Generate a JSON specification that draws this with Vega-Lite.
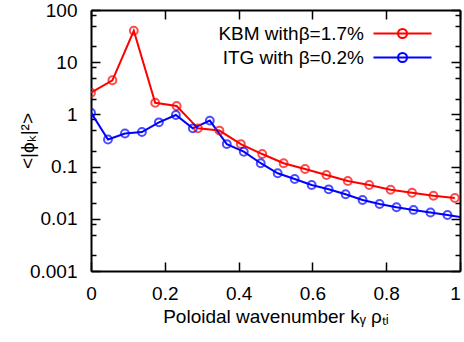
{
  "$schema": "https://vega.github.io/schema/vega-lite/v6.json",
  "width": 369,
  "height": 261,
  "autosize": "none",
  "padding": {"left": 91, "top": 10, "right": 4, "bottom": 71},
  "background": "white",
  "config": {
    "view": {"stroke": null},
    "font": "Liberation Sans",
    "axis": {
      "grid": false,
      "domainColor": "black",
      "domainWidth": 2,
      "tickColor": "black",
      "tickWidth": 1.5,
      "labelFont": "Liberation Sans",
      "labelFontSize": 19,
      "labelColor": "black",
      "titleFont": "Liberation Sans",
      "titleFontSize": 19,
      "titleFontWeight": "normal",
      "titleColor": "black"
    }
  },
  "datasets": {
    "spec": [
      {"series": "KBM withβ=1.7%", "ky": 0.0, "phi2": 2.6},
      {"series": "KBM withβ=1.7%", "ky": 0.058, "phi2": 4.5},
      {"series": "KBM withβ=1.7%", "ky": 0.116, "phi2": 40},
      {"series": "KBM withβ=1.7%", "ky": 0.174, "phi2": 1.67},
      {"series": "KBM withβ=1.7%", "ky": 0.232, "phi2": 1.45},
      {"series": "KBM withβ=1.7%", "ky": 0.29, "phi2": 0.54},
      {"series": "KBM withβ=1.7%", "ky": 0.348, "phi2": 0.49},
      {"series": "KBM withβ=1.7%", "ky": 0.406, "phi2": 0.27},
      {"series": "KBM withβ=1.7%", "ky": 0.464, "phi2": 0.174},
      {"series": "KBM withβ=1.7%", "ky": 0.522, "phi2": 0.116},
      {"series": "KBM withβ=1.7%", "ky": 0.58, "phi2": 0.09},
      {"series": "KBM withβ=1.7%", "ky": 0.638, "phi2": 0.069},
      {"series": "KBM withβ=1.7%", "ky": 0.696, "phi2": 0.053},
      {"series": "KBM withβ=1.7%", "ky": 0.754, "phi2": 0.0445},
      {"series": "KBM withβ=1.7%", "ky": 0.812, "phi2": 0.036},
      {"series": "KBM withβ=1.7%", "ky": 0.87, "phi2": 0.0316},
      {"series": "KBM withβ=1.7%", "ky": 0.928, "phi2": 0.0277},
      {"series": "KBM withβ=1.7%", "ky": 0.986, "phi2": 0.025},
      {"series": "ITG with β=0.2%", "ky": 0.0, "phi2": 1.08},
      {"series": "ITG with β=0.2%", "ky": 0.046, "phi2": 0.33},
      {"series": "ITG with β=0.2%", "ky": 0.092, "phi2": 0.43},
      {"series": "ITG with β=0.2%", "ky": 0.138, "phi2": 0.46},
      {"series": "ITG with β=0.2%", "ky": 0.184, "phi2": 0.705},
      {"series": "ITG with β=0.2%", "ky": 0.23, "phi2": 0.975},
      {"series": "ITG with β=0.2%", "ky": 0.276, "phi2": 0.54},
      {"series": "ITG with β=0.2%", "ky": 0.322, "phi2": 0.76},
      {"series": "ITG with β=0.2%", "ky": 0.368, "phi2": 0.27},
      {"series": "ITG with β=0.2%", "ky": 0.414, "phi2": 0.193},
      {"series": "ITG with β=0.2%", "ky": 0.46, "phi2": 0.116},
      {"series": "ITG with β=0.2%", "ky": 0.506, "phi2": 0.0745},
      {"series": "ITG with β=0.2%", "ky": 0.552, "phi2": 0.058},
      {"series": "ITG with β=0.2%", "ky": 0.598, "phi2": 0.0445},
      {"series": "ITG with β=0.2%", "ky": 0.644, "phi2": 0.0367},
      {"series": "ITG with β=0.2%", "ky": 0.69, "phi2": 0.0295},
      {"series": "ITG with β=0.2%", "ky": 0.736, "phi2": 0.0229},
      {"series": "ITG with β=0.2%", "ky": 0.782, "phi2": 0.0192},
      {"series": "ITG with β=0.2%", "ky": 0.828, "phi2": 0.0166},
      {"series": "ITG with β=0.2%", "ky": 0.874, "phi2": 0.0148},
      {"series": "ITG with β=0.2%", "ky": 0.92, "phi2": 0.0132},
      {"series": "ITG with β=0.2%", "ky": 0.966, "phi2": 0.0118},
      {"series": "ITG with β=0.2%", "ky": 1.012, "phi2": 0.0105}
    ]
  },
  "data": {"name": "spec"},
  "resolve": {"axis": {"x": "independent", "y": "independent"}},
  "layer": [
    {
      "mark": {"type": "line", "strokeWidth": 2, "clip": true},
      "encoding": {
        "x": {
          "field": "ky", "type": "quantitative",
          "scale": {"domain": [0, 1], "nice": false, "zero": false},
          "axis": {
            "orient": "bottom",
            "values": [0, 0.2, 0.4, 0.6, 0.8, 1],
            "format": "~g",
            "tickSize": -9,
            "labelPadding": 22,
            "labelFlush": false,
            "labelBound": false,
            "labelOffset": {"condition": {"test": "datum.value == 1", "value": -5}, "value": 0},
            "title": "Poloidal wavenumber kᵧ ρₜᵢ",
            "titleX": 184.5,
            "titleY": 51,
            "titleBaseline": "alphabetic"
          }
        },
        "y": {
          "field": "phi2", "type": "quantitative",
          "scale": {"type": "log", "domain": [0.001, 100], "nice": false},
          "axis": {
            "orient": "left",
            "values": [0.001, 0.01, 0.1, 1, 10, 100],
            "format": "~g",
            "tickSize": -9,
            "labelPadding": 23,
            "labelFlush": false,
            "title": "<|ϕₖ|²>",
            "titleAngle": -90,
            "titleX": -64,
            "titleY": 130.5,
            "titleAlign": "center",
            "titleBaseline": "middle"
          }
        },
        "color": {
          "field": "series", "type": "nominal",
          "scale": {"domain": ["KBM withβ=1.7%", "ITG with β=0.2%"], "range": ["#ff0000", "#0000ff"]},
          "legend": {
            "title": null,
            "orient": "none",
            "legendX": 302,
            "legendY": 14,
            "padding": 0,
            "symbolType": "M-5.8,0L5.8,0M0.9,0A0.9,0.9,0,1,1,-0.9,0A0.9,0.9,0,1,1,0.9,0",
            "symbolSize": 100,
            "symbolStrokeWidth": 2,
            "symbolFillColor": "transparent",
            "symbolOffset": 0,
            "labelAlign": "right",
            "labelOffset": -48,
            "labelFont": "Liberation Sans",
            "labelFontSize": 19,
            "labelColor": "black",
            "labelLimit": 400,
            "rowPadding": 4
          }
        }
      }
    },
    {
      "mark": {"type": "point", "shape": "circle", "filled": false, "size": 62, "strokeWidth": 2, "clip": true},
      "encoding": {
        "x": {
          "field": "ky", "type": "quantitative",
          "axis": {"orient": "top", "values": [0, 0.2, 0.4, 0.6, 0.8, 1], "labels": false, "tickSize": -9, "title": null}
        },
        "y": {
          "field": "phi2", "type": "quantitative",
          "axis": {"orient": "right", "values": [0.001, 0.01, 0.1, 1, 10, 100], "labels": false, "tickSize": -9, "title": null}
        },
        "stroke": {
          "field": "series", "type": "nominal",
          "scale": {"domain": ["KBM withβ=1.7%", "ITG with β=0.2%"], "range": ["#ff0000", "#0000ff"]},
          "legend": null
        }
      }
    },
    {
      "mark": {"type": "line", "opacity": 0},
      "encoding": {
        "x": {"field": "ky", "type": "quantitative", "axis": null},
        "y": {
          "field": "phi2", "type": "quantitative",
          "axis": {"orient": "left", "values": [0.002, 0.005, 0.008, 0.02, 0.05, 0.08, 0.2, 0.5, 0.8, 2, 5, 8, 20, 50, 80], "labels": false, "domain": false, "tickSize": -5, "title": null}
        }
      }
    },
    {
      "mark": {"type": "line", "opacity": 0},
      "encoding": {
        "x": {"field": "ky", "type": "quantitative", "axis": null},
        "y": {
          "field": "phi2", "type": "quantitative",
          "axis": {"orient": "right", "values": [0.002, 0.005, 0.008, 0.02, 0.05, 0.08, 0.2, 0.5, 0.8, 2, 5, 8, 20, 50, 80], "labels": false, "domain": false, "tickSize": -5, "title": null}
        }
      }
    }
  ]
}
